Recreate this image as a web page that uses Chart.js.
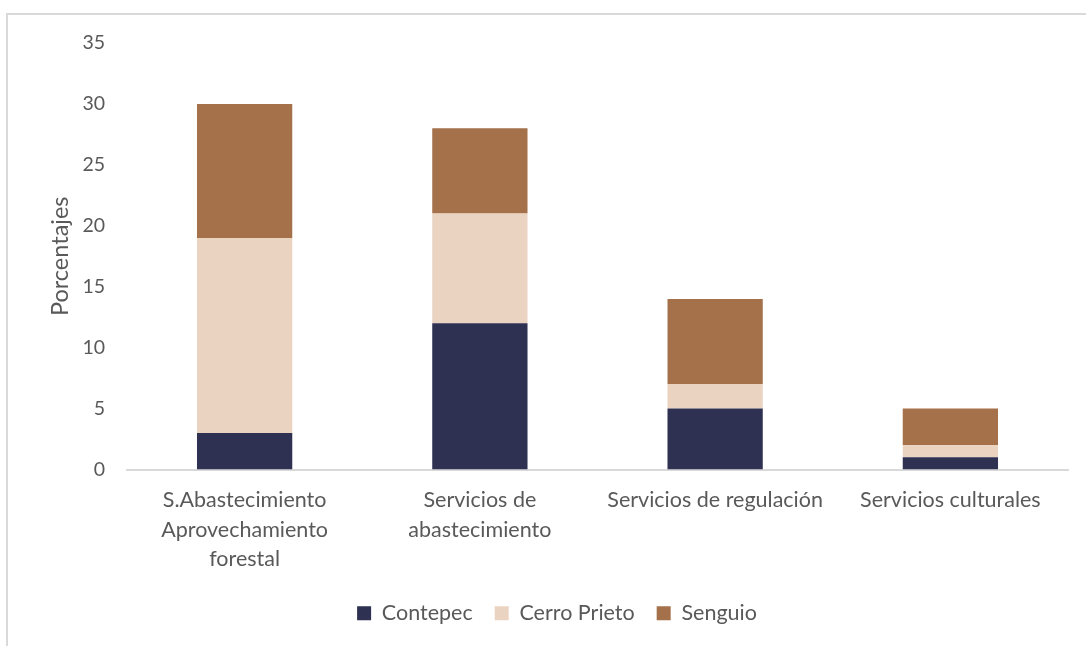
<!DOCTYPE html>
<html>
<head>
<meta charset="utf-8">
<script src="https://cdn.jsdelivr.net/npm/chart.js@4/dist/chart.umd.min.js"></script>
<style>
  html, body { margin: 0; padding: 0; background: #fff; overflow: hidden; }
  #frame { position: absolute; left: 6px; top: 13px; width: 1200px; height: 800px; border: 2px solid #d9d9d9; }
  #wrap { position: absolute; left: 0; top: 0; width: 1086px; height: 646px; }
</style>
</head>
<body>
<div id="frame"></div>
<div id="wrap"><canvas id="chart"></canvas></div>
<script>
const categories = [
    ['S.Abastecimiento', 'Aprovechamiento', 'forestal'],
    ['Servicios de', 'abastecimiento'],
    'Servicios de regulación',
    'Servicios culturales'
];
const contepec = [3, 12, 5, 1];
const cerroPrieto = [16, 9, 2, 1];
const senguio = [11, 7, 7, 3];

const textColor = '#595959';
Chart.defaults.font.family = 'Lato, "Open Sans", sans-serif';
Chart.defaults.font.size = 20;
Chart.defaults.color = textColor;

const chart = new Chart(document.getElementById('chart'), {
    type: 'bar',
    data: {
        labels: categories,
        datasets: [
            { label: 'Contepec', data: contepec, backgroundColor: '#2e3152' },
            { label: 'Cerro Prieto', data: cerroPrieto, backgroundColor: '#ebd3c2' },
            { label: 'Senguio', data: senguio, backgroundColor: '#a5714b' }
        ]
    },
    options: {
        responsive: true,
        maintainAspectRatio: false,
        animation: false,
        barPercentage: 1,
        categoryPercentage: 0.405,
        layout: { padding: { left: 46, right: 18, top: 43, bottom: 12 } },
        plugins: {
            tooltip: { enabled: false },
            legend: {
                position: 'bottom',
                labels: { boxWidth: 14, boxHeight: 14, padding: 22, font: { size: 21.5 } }
            }
        },
        scales: {
            x: {
                stacked: true,
                grid: { display: false, drawTicks: false },
                border: { color: '#d9d9d9', width: 2 },
                ticks: { padding: 16, maxRotation: 0, autoSkip: false, font: { size: 21.5, lineHeight: 1.37 } },
                afterFit: s => { s.height = 111; }
            },
            y: {
                stacked: true,
                min: 0,
                max: 35,
                ticks: { stepSize: 5, padding: 22, font: { size: 19.5 } },
                grid: { display: false, drawTicks: false },
                border: { display: false },
                title: { display: true, text: 'Porcentajes', padding: 0, font: { size: 23.5 } },
                afterFit: s => { s.width = 81; }
            }
        }
    }
});
</script>
</body>
</html>
